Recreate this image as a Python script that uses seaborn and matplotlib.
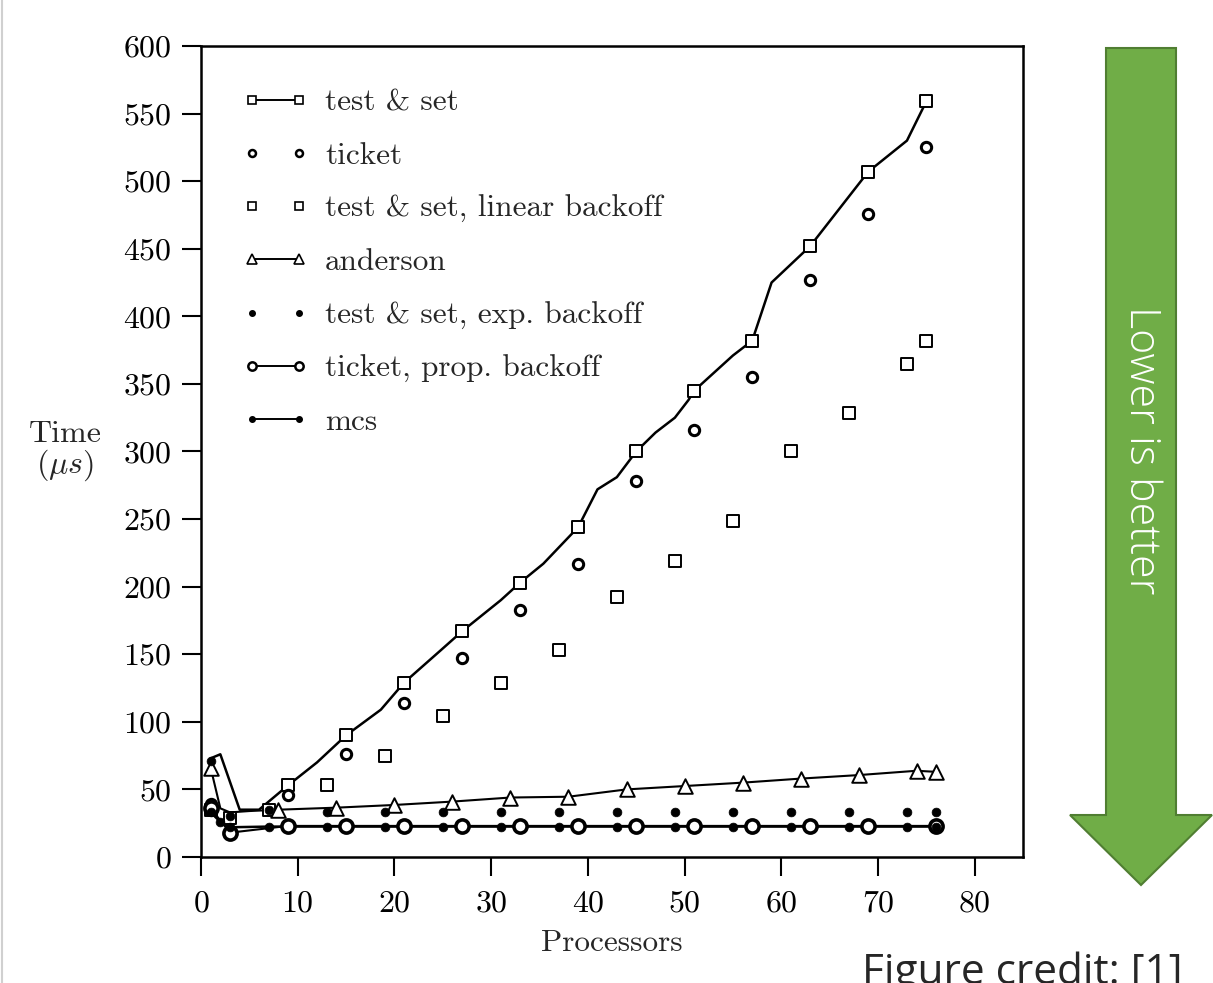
import numpy as np
import pandas as pd
import matplotlib
matplotlib.use("Agg")
import matplotlib.pyplot as plt
from matplotlib.lines import Line2D
from matplotlib.patches import Polygon
import seaborn as sns

# test & set: line vertices and the points that carry a marker
tas_line_x = [1, 2, 4, 6, 9, 12, 15, 18.6, 21, 24.8, 27, 31, 33, 35.4, 39, 41, 43, 45, 47, 49, 50.4, 51, 55, 57, 59, 63, 69, 73, 75]
tas_line_y = [73, 76, 35, 35, 53, 70, 90, 109, 129, 153, 167, 190, 203, 217, 244, 272, 281, 300, 314, 325, 338, 345, 371, 382, 425, 452, 507, 530, 559]
tas_x = [9, 15, 21, 27, 33, 39, 45, 51, 57, 63, 69, 75]
tas_y = [53, 90, 129, 167, 203, 244, 300, 345, 382, 452, 507, 559]

ticket_x = [1, 9, 15, 21, 27, 33, 39, 45, 51, 57, 63, 69, 75]
ticket_y = [39, 46, 76, 114, 147, 183, 217, 278, 316, 355, 427, 476, 525]

lin_x = [1, 3, 7, 13, 19, 25, 31, 37, 43, 49, 55, 61, 67, 73, 75]
lin_y = [35, 29, 35, 53, 75, 104, 128.5, 153, 192, 219, 248.5, 300, 328.6, 365, 382]

and_line_x = [1, 2, 3, 5, 8, 14, 20, 26, 32, 38, 44, 50, 56, 62, 68, 74, 76]
and_line_y = [66, 36, 33, 34, 35, 36.5, 38.5, 41, 44, 44.6, 50, 52.5, 55, 58, 60.6, 63.8, 63]
and_x = [1, 8, 14, 20, 26, 32, 38, 44, 50, 56, 62, 68, 74, 76]
and_y = [66, 35, 36.5, 38.5, 41, 44, 44.6, 50, 52.5, 55, 58, 60.6, 63.8, 63]

exp_x = [1, 3, 7, 13, 19, 25, 31, 37, 43, 49, 55, 61, 67, 73, 76]
exp_y = [71, 30, 35, 33.5, 33.5, 33.5, 33.5, 33.5, 33.5, 33.5, 33.5, 33.5, 33.5, 33.5, 33.5]

prop_x = [1, 3, 9, 15, 21, 27, 33, 39, 45, 51, 57, 63, 69, 76]
prop_y = [36, 18, 23, 23, 23, 23, 23, 23, 23, 23, 23, 23, 23, 23]

mcs_x = [1, 2, 3, 7, 13, 19, 25, 31, 37, 43, 49, 55, 61, 67, 73, 76]
mcs_y = [33, 26, 22, 22.5, 22.5, 22.5, 22.5, 22.5, 22.5, 22.5, 22.5, 22.5, 22.5, 22.5, 22.5, 22.5]

labels = ["test & set", "ticket", "test & set, linear backoff", "anderson",
          "test & set, exp. backoff", "ticket, prop. backoff", "mcs"]

sns.set_theme(style="ticks")
plt.rcParams["font.family"] = ["cmr10", "DejaVu Serif"]
plt.rcParams["mathtext.fontset"] = "cm"
plt.rcParams["axes.formatter.use_mathtext"] = True
plt.rcParams["axes.unicode_minus"] = False

W, H = 1213, 983
fig = plt.figure(figsize=(W / 100, H / 100), dpi=100)
ax = fig.add_axes([201 / W, 1 - 857 / H, 822 / W, 811 / H])

k = "black"
# lines
sns.lineplot(x=tas_line_x, y=tas_line_y, ax=ax, color=k, lw=1.8, sort=False)
sns.lineplot(x=and_line_x, y=and_line_y, ax=ax, color=k, lw=1.5, sort=False)
sns.lineplot(x=prop_x, y=prop_y, ax=ax, color=k, lw=1.5, sort=False)
sns.lineplot(x=mcs_x, y=mcs_y, ax=ax, color=k, lw=1.8, sort=False)

# markers
sns.scatterplot(x=tas_x, y=tas_y, ax=ax, marker="s", s=80, facecolor="white", edgecolor=k, linewidth=1.4, zorder=3)
sns.scatterplot(x=ticket_x, y=ticket_y, ax=ax, marker="o", s=55, facecolor="white", edgecolor=k, linewidth=2.2, zorder=3)
sns.scatterplot(x=lin_x, y=lin_y, ax=ax, marker="s", s=80, facecolor="white", edgecolor=k, linewidth=1.4, zorder=3)
sns.scatterplot(x=and_x, y=and_y, ax=ax, marker="^", s=110, facecolor="white", edgecolor=k, linewidth=1.4, zorder=3)
sns.scatterplot(x=exp_x, y=exp_y, ax=ax, marker="o", s=40, color=k, edgecolor=k, zorder=3)
sns.scatterplot(x=prop_x, y=prop_y, ax=ax, marker="o", s=90, facecolor="white", edgecolor=k, linewidth=2.6, zorder=3)
sns.scatterplot(x=mcs_x, y=mcs_y, ax=ax, marker="o", s=40, color=k, edgecolor=k, zorder=4)

ax.set_xlim(0, 85)
ax.set_ylim(0, 600)
ax.set_xticks(np.arange(0, 81, 10))
ax.set_yticks(np.arange(0, 601, 50))
ax.tick_params(axis="both", direction="out", length=14, width=1.5, colors=k, labelsize=23)
ax.tick_params(axis="x", pad=10)
ax.tick_params(axis="y", pad=7)
for sp in ax.spines.values():
    sp.set_visible(True)
    sp.set_color(k)
    sp.set_linewidth(1.8)

ax.set_ylabel("Time\n($\\mu s$)", rotation=0, fontsize=23, ha="center", va="center", linespacing=1.0)
ax.yaxis.set_label_coords((65 - 201) / 822, (857 - 452) / 811)
ax.set_xlabel("Processors", fontsize=22.5, va="center")
ax.xaxis.set_label_coords((612 - 201) / 822, (857 - 943) / 811)

# legend
def h(marker, ls, ms, mfc, mew):
    return Line2D([], [], color=k, marker=marker, linestyle=ls, markersize=ms,
                  markerfacecolor=mfc, markeredgecolor=k, markeredgewidth=mew, lw=1.4)

handles = [h("s", "-", 6, "white", 1.2), h("o", "none", 5, "white", 1.8),
           h("s", "none", 6, "white", 1.2), h("^", "-", 7, "white", 1.2),
           h("o", "none", 4, k, 1), h("o", "-", 6, "white", 1.8), h("o", "-", 4, k, 1)]
ax.legend(handles, labels, loc="upper left", bbox_to_anchor=(0.035, 0.963), frameon=False,
          fontsize=22.5, numpoints=2, handlelength=2.1, handletextpad=0.55, labelspacing=0.81,
          borderaxespad=0)

# arrow on the right
def fx(px):
    return px / W

def fy(py):
    return 1 - py / H

arrow = [(1106, 48), (1176, 48), (1176, 815), (1212, 815), (1141, 885),
         (1070, 815), (1106, 815)]
fig.add_artist(Polygon([(fx(a), fy(b)) for a, b in arrow], closed=True,
                       facecolor="#70AD47", edgecolor="#507E32", linewidth=1.5,
                       transform=fig.transFigure))
fig.text(fx(1141), fy(450), "Lower is better", rotation=-90, color="white",
         fontsize=31, family=["Open Sans", "DejaVu Sans"], fontweight="light",
         ha="center", va="center")
fig.text(fx(862), fy(952), "Figure credit: [1]", fontsize=30.5,
         family=["Open Sans", "DejaVu Sans"], ha="left", va="top")
fig.add_artist(Line2D([fx(2), fx(2)], [0, 1], color="#d0d0d0", lw=1.5, transform=fig.transFigure))

fig.savefig("out.png", dpi=100)
